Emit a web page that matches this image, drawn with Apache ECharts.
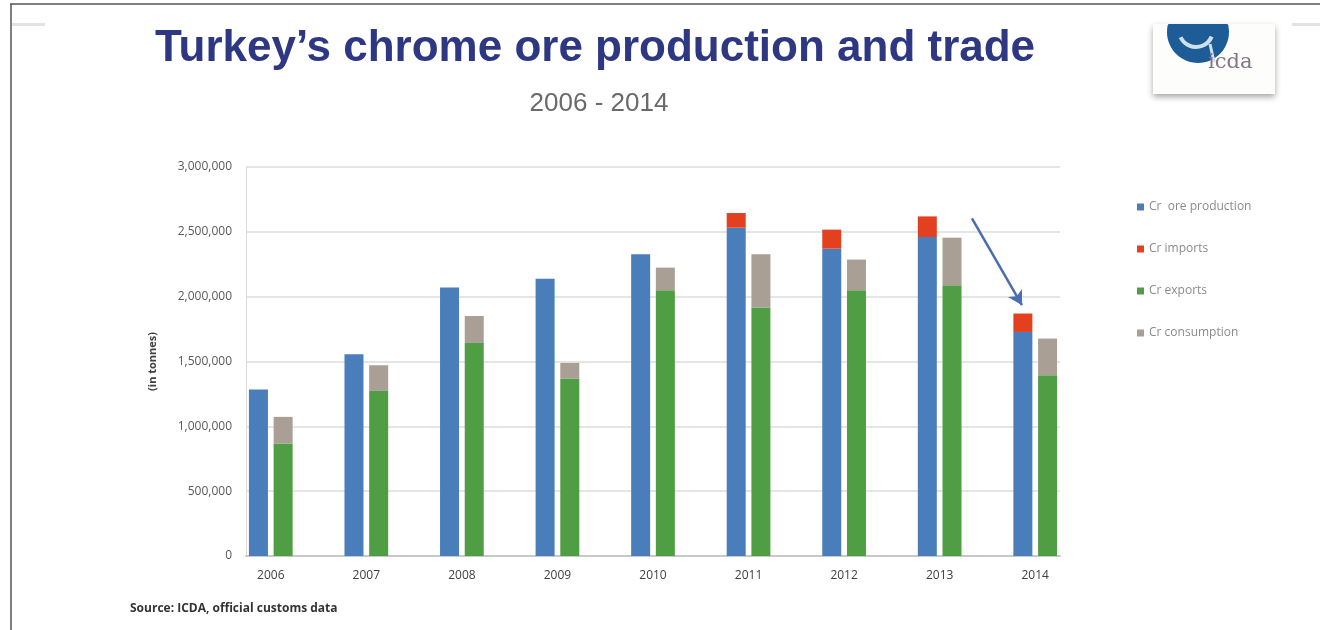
<!DOCTYPE html>
<html>
<head>
<meta charset="utf-8">
<title>Turkey chrome ore</title>
<script src="https://cdn.jsdelivr.net/npm/echarts@6/dist/echarts.min.js"></script>
<style>
  html, body { margin: 0; padding: 0; background: #fff; }
  #main { width: 1320px; height: 630px; }
</style>
</head>
<body>
<div id="main"></div>
<script>
  // values, in tonnes
  let years = ['2006', '2007', '2008', '2009', '2010', '2011', '2012', '2013', '2014'];
  let production = [1284000, 1556000, 2070000, 2139000, 2327000, 2532000, 2370000, 2460000, 1728000];
  let imports = [0, 0, 0, 0, 0, 113000, 147000, 159000, 142000];
  let exports = [868000, 1273000, 1643000, 1369000, 2049000, 1916000, 2049000, 2088000, 1394000];
  let consumption = [205000, 198000, 208000, 120000, 175000, 411000, 237000, 367000, 283000];
  let yMax = 3000000;
  let yStep = 500000;

  let chart = echarts.init(document.getElementById('main'));

  // logo disc, cut off at the top edge of the slide photo
  let logoDisc = [];
  for (let a = 0; a <= 360; a += 6) {
    let r = a * Math.PI / 180;
    logoDisc.push([1198 + 31 * Math.cos(r), Math.max(24, 32 + 31 * Math.sin(r))]);
  }

  let barW = 19;
  let option = {
    animation: false,
    textStyle: { fontFamily: 'Liberation Sans' },
    title: [{
      text: 'Turkey\u2019s chrome ore production and trade',
      left: 590,
      top: 22,
      textAlign: 'center',
      textStyle: { fontSize: 44, fontWeight: 'bold', color: '#2e3782', fontFamily: 'Liberation Sans' }
    }, {
      text: '2006 - 2014',
      left: 594,
      top: 86,
      textAlign: 'center',
      textStyle: { fontSize: 26, fontWeight: 'normal', color: '#6a6a6a', fontFamily: 'Liberation Sans' }
    }],
    legend: {
      orient: 'vertical',
      left: 1132,
      top: 196,
      itemWidth: 7,
      itemHeight: 7,
      itemGap: 30,
      icon: 'rect',
      textStyle: { fontSize: 12, color: '#8a8a8a', fontFamily: 'Open Sans' },
      data: ['Cr  ore production', 'Cr imports', 'Cr exports', 'Cr consumption']
    },
    // grid 0 holds the bars, grid 1 draws the visible frame of the plot
    grid: [
      { left: 223, right: 237, top: 167, bottom: 74 },
      { left: 246, right: 260, top: 167, bottom: 74 }
    ],
    xAxis: [{
      type: 'category',
      gridIndex: 0,
      data: years,
      axisLine: { show: false },
      axisTick: { show: false },
      axisLabel: { fontSize: 12, color: '#404040', fontFamily: 'Open Sans', margin: 14 }
    }, {
      type: 'value',
      gridIndex: 1,
      min: 0,
      max: 8.524,
      splitLine: { show: false },
      axisTick: { show: false },
      axisLabel: { show: false },
      axisLine: { show: true, lineStyle: { color: '#c8c8c8', width: 2 } }
    }],
    yAxis: [{
      type: 'value',
      gridIndex: 0,
      min: 0,
      max: yMax,
      interval: yStep,
      show: false
    }, {
      type: 'value',
      gridIndex: 1,
      min: 0,
      max: yMax,
      interval: yStep,
      name: '(in tonnes)',
      nameLocation: 'middle',
      nameRotate: 90,
      nameGap: 88,
      nameTextStyle: { fontSize: 11, fontWeight: 'bold', color: '#404040', fontFamily: 'Open Sans' },
      axisLine: { show: true, onZero: false, lineStyle: { color: '#d9d9d9' } },
      axisTick: { show: false },
      splitLine: { lineStyle: { color: '#dcdcdc', width: 1.5 } },
      axisLabel: {
        formatter: v => v.toLocaleString('en-US'),
        fontSize: 12,
        color: '#595959',
        fontFamily: 'Open Sans',
        margin: 14
      }
    }],
    series: [{
      name: 'Cr  ore production',
      type: 'bar',
      stack: 'prod',
      barWidth: barW,
      barGap: '30%',
      itemStyle: { color: '#4a7ebb' },
      data: production
    }, {
      name: 'Cr imports',
      type: 'bar',
      stack: 'prod',
      barWidth: barW,
      barGap: '30%',
      itemStyle: { color: '#e2401f' },
      data: imports
    }, {
      name: 'Cr exports',
      type: 'bar',
      stack: 'trade',
      barWidth: barW,
      barGap: '30%',
      itemStyle: { color: '#4f9e44' },
      data: exports
    }, {
      name: 'Cr consumption',
      type: 'bar',
      stack: 'trade',
      barWidth: barW,
      barGap: '30%',
      itemStyle: { color: '#a99f95' },
      data: consumption
    }, {
      // the hand-drawn arrow pointing at the 2014 drop
      name: 'arrow',
      type: 'line',
      xAxisIndex: 1,
      yAxisIndex: 1,
      data: [],
      silent: true,
      markLine: {
        silent: true,
        symbol: ['none', 'arrow'],
        symbolSize: [12, 14],
        label: { show: false },
        lineStyle: { color: '#4a6db0', width: 2.5, type: 'solid' },
        data: [[{ coord: [7.602, 2604000] }, { coord: [8.126, 1934000] }]]
      }
    }],
    graphic: [
      // photo frame
      { type: 'line', shape: { x1: 10, y1: 4, x2: 1320, y2: 4 }, style: { stroke: '#555', lineWidth: 1.5 } },
      { type: 'line', shape: { x1: 11, y1: 4, x2: 11, y2: 630 }, style: { stroke: '#555', lineWidth: 1.5 } },
      { type: 'rect', shape: { x: 12, y: 23, width: 33, height: 3 }, style: { fill: '#e2e2e2' } },
      { type: 'rect', shape: { x: 1292, y: 23, width: 28, height: 3 }, style: { fill: '#e2e2e2' } },
      // logo box
      {
        type: 'rect',
        shape: { x: 1153, y: 24, width: 122, height: 70 },
        style: { fill: '#fdfdfb', shadowBlur: 6, shadowOffsetY: 3, shadowColor: 'rgba(0,0,0,0.35)' }
      },
      { type: 'polygon', shape: { points: logoDisc }, style: { fill: '#1d5c96' } },
      { type: 'arc', shape: { cx: 1196, cy: 30, r: 17, startAngle: 0.4, endAngle: 2.7 }, style: { stroke: '#cfe0ee', lineWidth: 4, fill: null } },
      { type: 'line', shape: { x1: 1210, y1: 44, x2: 1214, y2: 62 }, style: { stroke: '#cfe0ee', lineWidth: 3 } },
      {
        type: 'text', left: 1208, top: 52,
        style: { text: 'icda', fill: '#857684', font: '21px "DejaVu Serif"' }
      },
      // source line
      {
        type: 'text', left: 130, top: 603,
        style: { text: 'Source: ICDA, official customs data', fill: '#333', font: 'bold 12px "Open Sans"' }
      }
    ]
  };
  chart.setOption(option);
</script>
</body>
</html>
